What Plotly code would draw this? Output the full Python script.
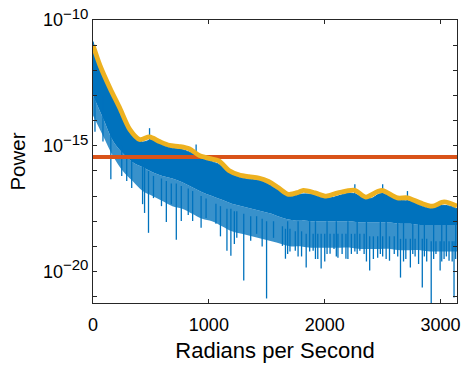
import numpy as np
import plotly.graph_objects as go

# ---- data (log10 of power) ----
x_max = 3141.6

# smoothed envelope (orange)
env_w = [0, 60, 146, 231, 317, 402, 488, 574, 659, 745, 830, 916, 1002, 1087, 1173, 1258,
         1344, 1430, 1515, 1601, 1686, 1772, 1815, 1917, 2012, 2114, 2260, 2354, 2457,
         2500, 2628, 2714, 2825, 2928, 3030, 3142]
env_L = [-11.0, -11.8, -12.7, -13.5, -14.35, -14.75, -14.65, -14.83, -14.98, -15.03, -15.12,
         -15.38, -15.5, -15.6, -15.98, -16.15, -16.23, -16.28, -16.42, -16.67, -16.93, -16.85,
         -16.77, -16.87, -17.0, -16.87, -16.77, -17.04, -16.82, -16.78, -17.07, -17.07, -17.27,
         -17.4, -17.23, -17.4]

# dense spectrum (blue): top edge, solid core bottom, sparse fringe bottom
band_w = [0, 86, 171, 257, 342, 428, 514, 599, 685, 770, 856, 942, 1027, 1113, 1198, 1284,
          1370, 1455, 1541, 1626, 1712, 1798, 1883, 1969, 2054, 2140, 2225, 2311, 2397, 2482,
          2568, 2653, 2739, 2825, 2910, 2996, 3081, 3142]
band_hi = [-10.85, -12.2, -13.05, -13.85, -14.6, -14.85, -14.75, -14.97, -15.1, -15.15, -15.3,
           -15.52, -15.63, -15.8, -16.12, -16.28, -16.34, -16.4, -16.6, -16.82, -17.0, -16.92,
           -16.93, -17.05, -17.07, -16.96, -16.88, -17.0, -17.1, -16.9, -17.0, -17.17, -17.2,
           -17.37, -17.48, -17.37, -17.4, -17.5]
core_lo = [-13.0, -13.9, -14.8, -15.3, -15.65, -15.85, -16.05, -16.2, -16.3, -16.45, -16.65,
           -16.85, -17.0, -17.15, -17.3, -17.4, -17.5, -17.6, -17.7, -17.85, -17.95, -17.95,
           -18.0, -18.0, -18.0, -18.0, -18.0, -18.05, -18.05, -18.05, -18.05, -18.1, -18.1,
           -18.15, -18.15, -18.15, -18.15, -18.15]
fringe_lo = [-13.8, -14.6, -15.4, -16.0, -16.4, -16.8, -17.0, -17.2, -17.4, -17.5, -17.7,
             -17.9, -18.0, -18.2, -18.4, -18.5, -18.6, -18.7, -18.8, -18.9, -19.0, -19.0,
             -19.05, -19.05, -19.05, -19.05, -19.05, -19.1, -19.1, -19.1, -19.1, -19.15,
             -19.15, -19.15, -19.2, -19.2, -19.2, -19.2]

# individual spikes of the spectrum (blue): position, top, bottom
spike_w = [17, 86, 154, 248, 291, 334, 428, 445, 479, 522, 591, 633, 676, 719, 762, 822, 860,
           933, 976, 1061, 1100, 1156, 1190, 1220, 1241, 1301, 1361, 1412, 1460, 1498, 1558,
           1635, 1661, 1700, 1746, 1800, 1840, 1900, 1940, 1969, 2000, 2046, 2080, 2114, 2150,
           2183, 2230, 2260, 2303, 2340, 2388, 2420, 2457, 2500, 2559, 2600, 2654, 2700, 2739,
           2780, 2842, 2880, 2919, 2960, 2996, 3030, 3073, 3100, 3116,
           1680, 1770, 1870, 1920, 2020, 2100, 2200, 2280, 2360, 2480, 2530, 2630, 2680, 2760,
           2810, 2860, 2940, 3010, 3050, 3130,
           488, 890, 2260, 2500, 2714]
spike_hi = [-12.5, -13.0, -14.5, -15.0, -15.3, -15.5, -15.8, -15.8, -16.0, -16.2, -16.3, -16.4,
            -16.5, -16.5, -16.6, -16.7, -16.8, -17.0, -17.1, -17.3, -17.4, -17.5, -17.5, -17.6,
            -17.6, -17.7, -17.8, -17.8, -17.9, -18.0, -18.0, -18.2, -18.3, -18.3, -18.4, -18.4,
            -18.5, -18.5, -18.5, -18.5, -18.5, -18.5, -18.5, -18.5, -18.5, -18.5, -18.5, -18.5,
            -18.5, -18.5, -18.6, -18.6, -18.6, -18.6, -18.6, -18.6, -18.7, -18.7, -18.7, -18.7,
            -18.7, -18.7, -18.8, -18.8, -18.8, -18.8, -18.8, -18.8, -18.8,
            -18.0, -18.0, -18.0, -18.0, -18.0, -18.0, -18.0, -18.0, -18.0, -18.0, -18.0, -18.0,
            -18.0, -18.0, -18.0, -18.0, -18.0, -18.0, -18.0, -18.0,
            -14.3, -14.95, -16.53, -16.53, -16.8]
spike_lo = [-14.44, -14.83, -16.33, -16.2, -16.4, -16.68, -17.32, -17.67, -18.46, -17.08, -17.4,
            -18.03, -17.32, -18.74, -17.99, -17.75, -17.99, -18.26, -17.87, -18.1, -18.6, -19.17,
            -19.37, -18.9, -18.66, -20.36, -18.78, -18.5, -19.0, -21.07, -18.66, -18.98, -19.49,
            -19.2, -19.17, -19.4, -19.84, -19.17, -19.5, -19.88, -19.6, -19.29, -19.1, -19.45,
            -19.3, -19.49, -19.3, -19.2, -19.17, -19.3, -19.96, -19.5, -19.45, -19.4, -19.57,
            -19.3, -20.24, -19.5, -19.84, -19.4, -20.63, -19.6, -21.4, -19.3, -19.96, -19.5,
            -19.57, -19.6, -21.03,
            -19.3, -19.4, -19.2, -19.5, -19.3, -19.4, -19.5, -19.3, -19.6, -19.3, -19.5, -19.4,
            -19.6, -19.3, -19.7, -19.4, -19.5, -19.6, -19.4, -19.5,
            -15.0, -15.6, -17.2, -17.2, -17.3]

red_level = -15.45

y_tick_exp = list(range(-21, -9))
y_label_exp = [-20, -15, -10]
x_ticks = [0, 1000, 2000, 3000]

# ---- figure ----
BLUE = "#0072BD"
ORANGE = "#EDB120"
RED = "#D95319"
AX = "#262626"
FONT = "Liberation Sans, Arial, Helvetica, sans-serif"

fig = go.Figure()

# sparse fringe below the solid core
fig.add_trace(go.Scatter(x=band_w, y=10 ** np.array(fringe_lo), mode="lines",
                         line=dict(color="rgba(0,114,189,0)", width=0, shape="spline"),
                         hoverinfo="skip"))
fig.add_trace(go.Scatter(x=band_w, y=10 ** np.array(core_lo), mode="lines",
                         line=dict(color="rgba(0,114,189,0)", width=0, shape="spline"),
                         fill="tonexty", fillcolor="rgba(0,114,189,0.78)", hoverinfo="skip"))
# solid core
fig.add_trace(go.Scatter(x=band_w, y=10 ** np.array(band_hi), mode="lines",
                         line=dict(color=BLUE, width=1, shape="spline"), fill="tonexty",
                         fillcolor=BLUE, hoverinfo="skip"))

sx, sy = [], []
for w, hi, lo in zip(spike_w, spike_hi, spike_lo):
    sx += [w, w, None]
    sy += [10 ** hi, 10 ** lo, None]
fig.add_trace(go.Scatter(x=sx, y=sy, mode="lines", line=dict(color=BLUE, width=1.3),
                         connectgaps=False, hoverinfo="skip"))

fig.add_trace(go.Scatter(x=[0, x_max], y=[10 ** red_level] * 2, mode="lines",
                         line=dict(color=RED, width=4)))
fig.add_trace(go.Scatter(x=env_w, y=10 ** np.array(env_L), mode="lines",
                         line=dict(color=ORANGE, width=4.8, shape="spline", smoothing=0.8)))

ticktext = [f"10<sup><span style='font-size:15px'>\u2212{-e}</span></sup>"
            if e in y_label_exp else "" for e in y_tick_exp]

fig.update_layout(
    width=465, height=366,
    margin=dict(l=93, r=5, t=18, b=63),
    paper_bgcolor="white", plot_bgcolor="white",
    showlegend=False,
    font=dict(family=FONT, color=AX, size=18),
)
fig.update_xaxes(
    range=[0, x_max], tickvals=x_ticks, ticks="inside", ticklen=4, tickcolor=AX,
    showline=True, linecolor=AX, linewidth=1, mirror="ticks", showgrid=False, zeroline=False,
    tickfont=dict(size=18, color="black"), ticklabelstandoff=5,
    title=dict(text="Radians per Second", font=dict(size=22, color="black"), standoff=9),
)
fig.update_yaxes(
    type="log", range=[-21.25, -10], tickvals=[10.0 ** e for e in y_tick_exp],
    ticktext=ticktext, ticks="inside", ticklen=4, tickcolor=AX,
    showline=True, linecolor=AX, linewidth=1, mirror="ticks", showgrid=False, zeroline=False,
    tickfont=dict(size=18, color="black"),
    title=dict(text="Power", font=dict(size=20.5, color="black"), standoff=11),
)

fig.write_html("out.html")
